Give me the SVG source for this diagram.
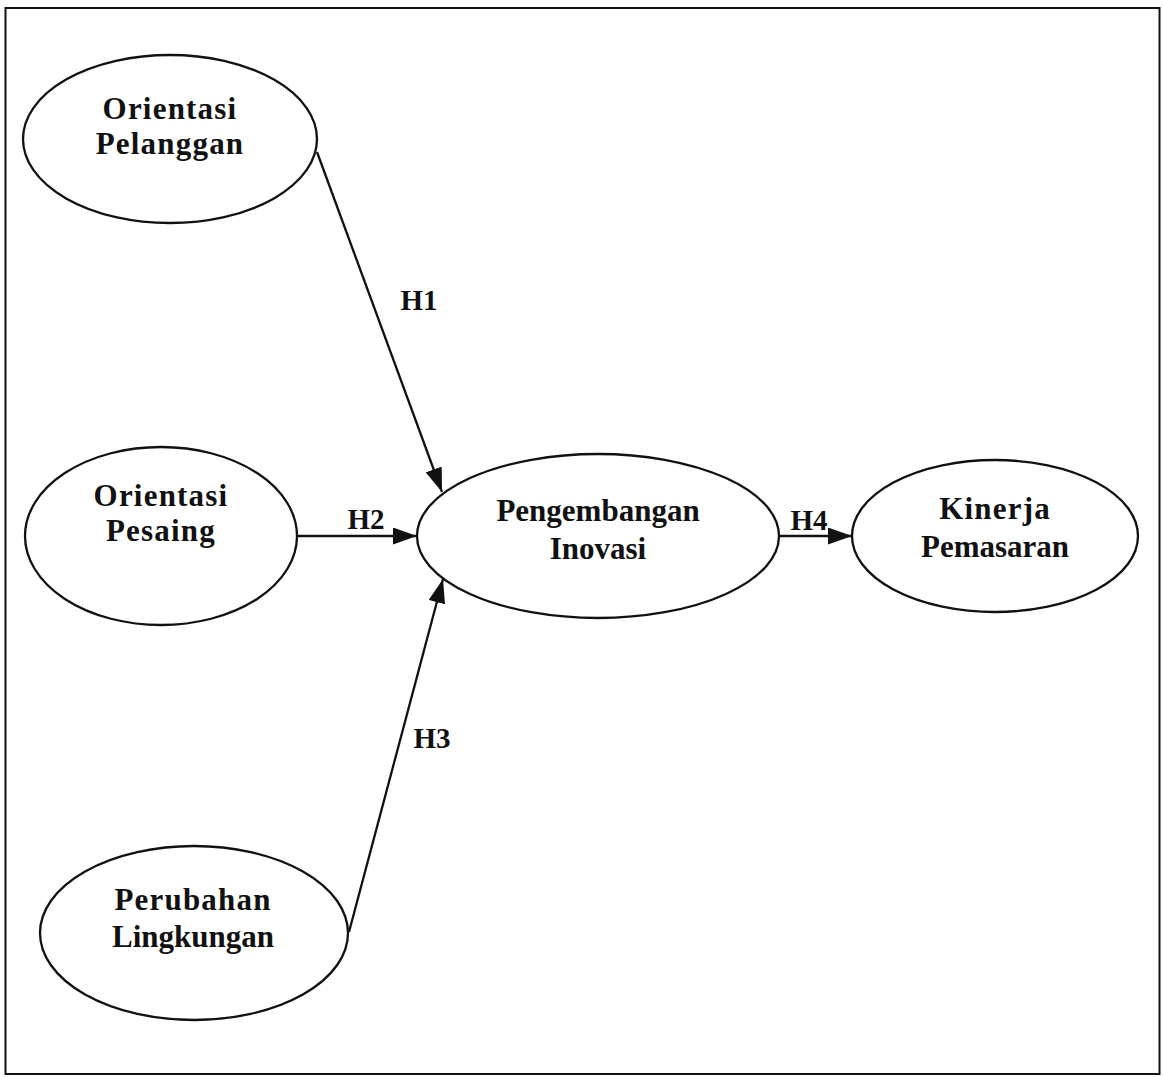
<svg xmlns="http://www.w3.org/2000/svg" width="1163" height="1077" viewBox="0 0 1163 1077">
<style>
.n{fill:#fff;stroke:#111;stroke-width:2.3}
.t{font-family:"Liberation Serif","Times New Roman",serif;font-weight:bold;font-size:31px;fill:#111;text-anchor:middle}
.w{letter-spacing:1.2px}
.c{stroke:#111;stroke-width:2.3;fill:none}
.l{font-family:"Liberation Serif","Times New Roman",serif;font-weight:bold;font-size:29px;fill:#111;text-anchor:middle}
</style>
<defs>
<marker id="ah" viewBox="0 0 24 17" refX="24" refY="8.5" markerWidth="24" markerHeight="17" markerUnits="userSpaceOnUse" orient="auto">
<path d="M0,0 L24,8.5 L0,17 Z" fill="#111"/>
</marker>
</defs>
<rect x="0" y="0" width="1163" height="1077" fill="#fff"/>
<rect x="5.5" y="8" width="1154" height="1066" fill="none" stroke="#111" stroke-width="2"/>
<g id="connectors">
<line class="c" x1="317" y1="152" x2="442" y2="492" marker-end="url(#ah)"/>
<line class="c" x1="297" y1="536" x2="417" y2="536" marker-end="url(#ah)"/>
<line class="c" x1="349" y1="932" x2="443" y2="579" marker-end="url(#ah)"/>
<line class="c" x1="779" y1="536" x2="852" y2="536" marker-end="url(#ah)"/>
<text class="l" x="419" y="310">H1</text>
<text class="l" x="366" y="529">H2</text>
<text class="l" x="432" y="748">H3</text>
<text class="l" x="809" y="530">H4</text>
</g>
<g id="orientasi-pelanggan">
<ellipse class="n" cx="170" cy="139" rx="147" ry="84"/>
<text class="t w" x="170" y="119">Orientasi</text>
<text class="t w" x="170" y="154">Pelanggan</text>
</g>
<g id="orientasi-pesaing">
<ellipse class="n" cx="161" cy="536" rx="136" ry="89"/>
<text class="t w" x="161" y="506">Orientasi</text>
<text class="t w" x="161" y="541">Pesaing</text>
</g>
<g id="perubahan-lingkungan">
<ellipse class="n" cx="194" cy="933" rx="154" ry="87"/>
<text class="t w" x="193" y="910">Perubahan</text>
<text class="t" x="193" y="947">Lingkungan</text>
</g>
<g id="pengembangan-inovasi">
<ellipse class="n" cx="598" cy="536" rx="181" ry="82"/>
<text class="t" x="598" y="521">Pengembangan</text>
<text class="t" x="598" y="559">Inovasi</text>
</g>
<g id="kinerja-pemasaran">
<ellipse class="n" cx="995" cy="536" rx="143" ry="76"/>
<text class="t w" x="995" y="519">Kinerja</text>
<text class="t" x="995" y="557">Pemasaran</text>
</g>
</svg>
